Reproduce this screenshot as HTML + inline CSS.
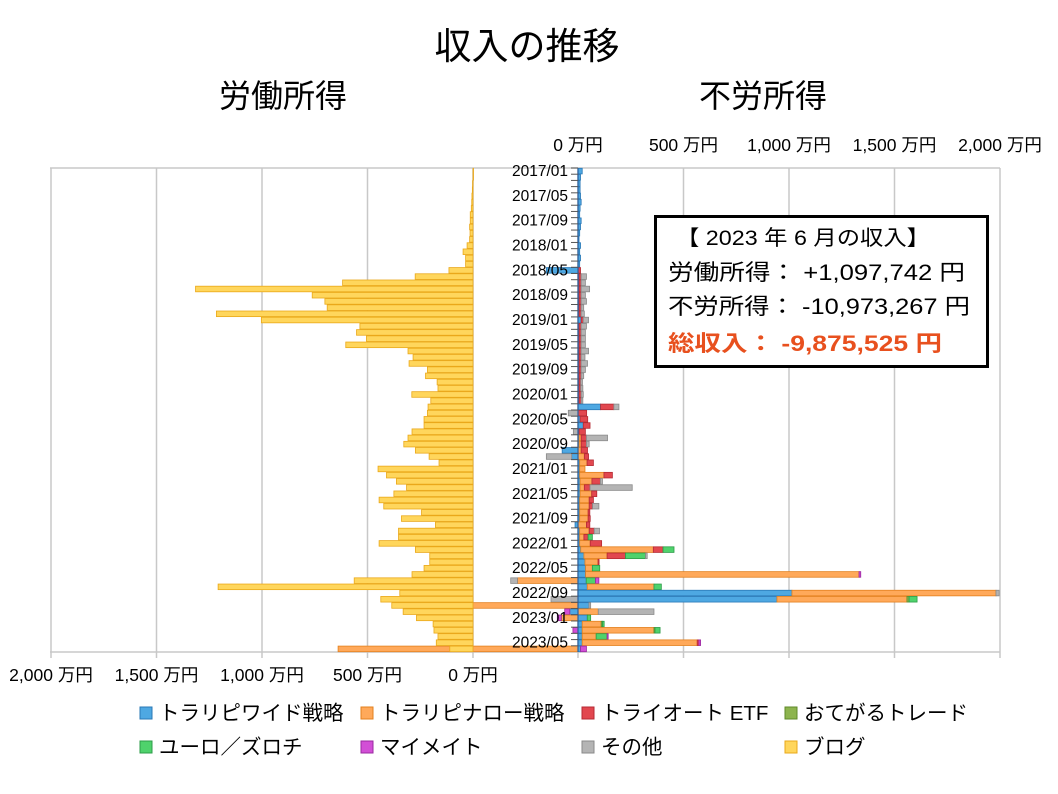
<!DOCTYPE html>
<html><head><meta charset="utf-8">
<style>
body{margin:0;background:#fff;}
svg{display:block;font-family:"Liberation Sans","Noto Sans CJK JP",sans-serif;}
</style></head>
<body>
<svg id="chart" width="1058" height="794" viewBox="0 0 1058 794" xmlns="http://www.w3.org/2000/svg">
<rect width="1058" height="794" fill="#fff"/>
<text x="527" y="59" font-size="37" text-anchor="middle">収入の推移</text>
<text x="283" y="107" font-size="32" text-anchor="middle">労働所得</text>
<text x="763" y="107" font-size="32" text-anchor="middle">不労所得</text>
<g id="grid"></g>
<g id="bars"></g>
<g id="labels"></g>
<g id="ticks"></g>
<g>
<rect x="655.5" y="216.5" width="332" height="150" fill="#fff" stroke="#000" stroke-width="3"/>
<text x="676" y="245" font-size="21" textLength="254" lengthAdjust="spacingAndGlyphs">【 2023 年 6 月の収入】</text>
<text x="668" y="280" font-size="22" textLength="297" lengthAdjust="spacingAndGlyphs">労働所得： +1,097,742 円</text>
<text x="668" y="314" font-size="22" textLength="302" lengthAdjust="spacingAndGlyphs">不労所得： -10,973,267 円</text>
<text x="668" y="351" font-size="22" font-weight="bold" fill="#e8501e" textLength="274" lengthAdjust="spacingAndGlyphs">総収入： -9,875,525 円</text>
</g>
<g id="legend"></g>
</svg>
<script>
const months = [];
for (let i = 0; i < 78; i++) { const y = 2017 + Math.floor(i / 12), m = i % 12 + 1; months.push(y + '/' + String(m).padStart(2, '0')); }
const seriesNames = ['トラリピワイド戦略','トラリピナロー戦略','トライオート ETF','おてがるトレード','ユーロ／ズロチ','マイメイト','その他'];
const blog = [0,0,2,3,5,6,8,13,13,16,14,16,28,47,35,35,114,274,618,1315,762,702,691,1216,1003,536,552,505,603,308,284,303,216,225,170,166,290,200,213,216,232,232,289,308,328,273,208,161,450,410,363,315,375,445,423,244,339,178,353,353,445,273,205,205,232,289,563,1208,347,437,385,331,268,189,185,166,174,110];
const wide = [20,12,10,10,12,15,10,8,15,12,8,5,12,8,12,8,-150,5,5,5,5,5,5,5,15,5,5,5,5,5,5,5,5,5,5,5,5,5,107,0,10,25,5,5,5,-75,-30,8,8,8,10,10,10,8,8,8,8,-14,8,8,8,13,28,33,36,36,39,44,1014,943,52,-39,44,20,20,20,20,12];
const narrow = [0,0,0,0,0,0,0,0,0,0,0,0,0,0,0,0,0,0,0,0,0,0,0,0,0,0,0,0,0,0,0,0,0,0,0,0,0,0,0,0,0,0,0,10,10,15,30,35,25,115,56,20,55,45,45,40,40,40,45,20,50,344,110,62,32,1296,-287,316,967,616,-650,96,-79,90,340,66,545,-1137];
const etf = [0,0,0,0,0,0,0,0,0,0,0,0,0,0,0,0,12,10,10,10,10,10,10,10,10,10,10,10,10,10,10,10,10,10,8,8,10,10,63,41,36,32,30,25,25,30,20,30,0,40,40,27,24,20,16,8,10,16,24,20,54,46,87,5,0,0,0,0,0,0,0,0,0,0,0,0,8,0];
const otegaru = [0,0,0,0,0,0,0,0,0,0,0,0,0,0,0,0,0,0,0,0,0,0,0,0,0,0,0,0,0,0,0,0,0,0,0,0,0,0,0,0,0,0,0,0,0,0,0,0,0,0,0,0,0,0,0,0,0,0,0,0,0,0,0,0,0,0,0,0,0,10,0,0,0,6,5,0,0,0];
const euro = [0,0,0,0,0,0,0,0,0,0,0,0,0,0,0,0,0,0,0,0,0,0,0,0,0,0,0,0,0,0,0,0,0,0,0,0,0,0,0,0,0,0,0,0,0,0,0,0,0,0,0,0,0,0,0,0,0,0,0,20,0,52,95,0,35,0,44,35,0,38,0,0,16,8,24,52,0,0];
const mymate = [0,0,0,0,0,0,0,0,0,0,0,0,0,0,0,0,0,0,0,0,0,0,0,0,0,0,0,0,0,0,0,0,0,0,0,0,0,0,0,0,0,0,0,0,0,0,0,0,0,0,0,0,0,0,0,0,0,0,0,0,0,0,0,0,0,8,16,0,0,0,0,-24,-19,0,-24,5,8,28];
const other = [0,0,0,0,0,0,0,0,0,0,0,0,0,0,0,0,0,25,20,40,20,25,12,15,25,25,20,20,20,35,18,30,20,12,8,10,10,8,24,-46,0,0,-22,100,13,0,-120,0,0,0,10,200,0,0,30,0,0,0,25,0,0,0,8,0,0,0,-32,0,15,-128,8,264,0,0,0,0,0,0];
const leftTicks = ['2,000 万円','1,500 万円','1,000 万円','500 万円','0 万円'];
const rightTicks = ['0 万円','500 万円','1,000 万円','1,500 万円','2,000 万円'];
const tickVals = [2000,1500,1000,500,0];
const rightTickVals = [0,500,1000,1500,2000];

const NS = 'http://www.w3.org/2000/svg';
function mk(tag, attrs, parent) { const e = document.createElementNS(NS, tag); for (const k in attrs) e.setAttribute(k, attrs[k]); parent.appendChild(e); return e; }
const top0 = 168, bot0 = 652, n = months.length, rowH = (bot0 - top0) / n;
const LX0 = 473, RX0 = 578, PX = (1000 - 578) / 2000;
const xL = v => LX0 - v * PX;
const xR = v => RX0 + v * PX;
const yRow = i => top0 + i * rowH;

const grid = document.getElementById('grid');
tickVals.forEach(v => { const l = mk('line', {x1: xL(v), x2: xL(v), y1: top0, y2: bot0 + 6, stroke: '#c8c8c8', 'stroke-width': 1.5}, grid);   });
rightTickVals.forEach(v => { const l = mk('line', {x1: xR(v), x2: xR(v), y1: top0, y2: bot0 + 6, stroke: '#c8c8c8', 'stroke-width': 1.5}, grid);   });
let hl = mk('line', {x1: 50, x2: 1000, y1: top0, y2: top0, stroke: '#c8c8c8', 'stroke-width': 1.5}, grid);
 
hl = mk('line', {x1: 50, x2: 1000, y1: bot0, y2: bot0, stroke: '#c8c8c8', 'stroke-width': 1.5}, grid);
 

const bars = document.getElementById('bars');
const series = [wide, narrow, etf, otegaru, euro, mymate, other];
const fills = ['#4ea8e2','#ffa95a','#e2474f','#8db44e','#4fd26c','#d24fd6','#b4b4b4'];
const strokes = ['#2a78b6','#e3801e','#b52a33','#5f8a2a','#2d9c48','#9a2aa0','#8a8a8a'];
for (let i = 0; i < n; i++) {
  let pos = 0, neg = 0;
  series.forEach((s, k) => {
    const v = s[i]; if (!v) return;
    let a, b;
    if (v > 0) { a = pos; b = pos + v; pos = b; } else { a = neg + v; b = neg; neg = a; }
    const r = mk('rect', {x: xR(a), y: yRow(i) + 0.3, width: (b - a) * PX, height: rowH - 0.6, fill: fills[k], stroke: strokes[k], 'stroke-width': 0.8}, bars);
    
    
  });
}
blog.forEach((v, i) => {
  const r = mk('rect', {x: xL(v), y: yRow(i) + 0.3, width: Math.max(0.5, v * PX), height: rowH - 0.6, fill: '#ffd65c', stroke: '#eaa81a', 'stroke-width': 0.8}, bars);
  
  
});
let ax = mk('line', {x1: RX0, x2: RX0, y1: top0, y2: bot0, stroke: '#2a5f9e', 'stroke-width': 1.2}, bars);
 

const labels = document.getElementById('labels');
for (let i = 0; i < n; i++) {
  const t = mk('line', {x1: RX0 - 7, x2: RX0, y1: yRow(i), y2: yRow(i), stroke: '#555', 'stroke-width': 1}, labels);
   
  if (i % 4 === 0) {
    const tx = mk('text', {x: 568, y: yRow(i) + rowH / 2 + 5, 'font-size': 15.5, 'text-anchor': 'end'}, labels);
    tx.textContent = months[i];
     
  }
}
const ticks = document.getElementById('ticks');
leftTicks.forEach((s, k) => { const t = mk('text', {x: xL(tickVals[k]), y: 681, 'font-size': 17.5, 'text-anchor': 'middle'}, ticks); t.textContent = s;   });
rightTicks.forEach((s, k) => { const t = mk('text', {x: xR(rightTickVals[k]), y: 151, 'font-size': 17.5, 'text-anchor': 'middle'}, ticks); t.textContent = s;   });

const legend = document.getElementById('legend');
const legNames = seriesNames.concat(['ブログ']);
const legFills = fills.concat(['#ffd65c']);
const legStrokes = strokes.concat(['#eaa81a']);
const order = [0,1,2,3,4,5,6,7];
const colX = [140, 361, 582, 785];
order.forEach((k, j) => {
  const cx = colX[j % 4], cy = j < 4 ? 713 : 747;
  const g = mk('g', {}, legend);
   
  mk('rect', {x: cx, y: cy - 6, width: 12, height: 12, fill: legFills[k], stroke: legStrokes[k], 'stroke-width': 1}, g);
  const t = mk('text', {x: cx + 19, y: cy + 7, 'font-size': 20.5}, g);
  t.textContent = legNames[k];
});
</script>
</body></html>
